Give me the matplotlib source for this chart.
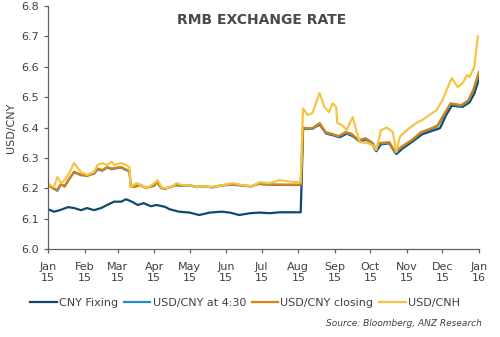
import numpy as np
import pandas as pd
import matplotlib
matplotlib.use("Agg")
import matplotlib.pyplot as plt
import matplotlib.dates as mdates

# ---------------------------------------------------------------
#  DATA
# ---------------------------------------------------------------
fix_dates = [
    "2015-01-01", "2015-01-06", "2015-01-11", "2015-01-18", "2015-01-23", "2015-01-29",
    "2015-02-03", "2015-02-09", "2015-02-15", "2015-02-20", "2015-02-26", "2015-03-04",
    "2015-03-08", "2015-03-13", "2015-03-18", "2015-03-23", "2015-03-29", "2015-04-03",
    "2015-04-10", "2015-04-14", "2015-04-22", "2015-05-01", "2015-05-09", "2015-05-18",
    "2015-05-28", "2015-06-04", "2015-06-12", "2015-06-21", "2015-06-29", "2015-07-08",
    "2015-07-16", "2015-07-25", "2015-08-03", "2015-08-04", "2015-08-05", "2015-08-09",
    "2015-08-13", "2015-08-19", "2015-08-25", "2015-08-30", "2015-09-05", "2015-09-11",
    "2015-09-16", "2015-09-22", "2015-09-28", "2015-10-03", "2015-10-06", "2015-10-10",
    "2015-10-17", "2015-10-23", "2015-10-28", "2015-11-06", "2015-11-14", "2015-11-23",
    "2015-11-29", "2015-12-04", "2015-12-09", "2015-12-18", "2015-12-24", "2015-12-28",
    "2016-01-01",
]
fix_values = [
    6.131, 6.123, 6.128, 6.138, 6.135, 6.128,
    6.135, 6.128, 6.135, 6.145, 6.156, 6.156,
    6.164, 6.156, 6.145, 6.151, 6.141, 6.145,
    6.139, 6.131, 6.123, 6.120, 6.112, 6.120,
    6.123, 6.120, 6.112, 6.118, 6.120, 6.118,
    6.121, 6.121, 6.121, 6.250, 6.400, 6.395,
    6.397, 6.410, 6.380, 6.375, 6.368, 6.380,
    6.372, 6.355, 6.360, 6.348, 6.322, 6.345,
    6.348, 6.313, 6.330, 6.355, 6.378, 6.390,
    6.398, 6.440, 6.472, 6.468, 6.483, 6.512,
    6.560,
]

spot_dates = [
    "2015-01-01", "2015-01-06", "2015-01-09", "2015-01-12", "2015-01-15", "2015-01-19",
    "2015-01-23", "2015-01-26", "2015-01-29", "2015-02-03", "2015-02-09", "2015-02-12",
    "2015-02-16", "2015-02-20", "2015-02-24", "2015-02-28", "2015-03-04", "2015-03-08",
    "2015-03-11", "2015-03-12", "2015-03-16", "2015-03-20", "2015-03-25", "2015-04-01",
    "2015-04-03", "2015-04-07", "2015-04-10", "2015-04-15", "2015-04-19", "2015-04-24",
    "2015-05-01", "2015-05-07", "2015-05-11", "2015-05-20", "2015-05-28", "2015-06-05",
    "2015-06-14", "2015-06-22", "2015-06-28", "2015-07-07", "2015-07-15", "2015-07-24",
    "2015-08-03", "2015-08-04", "2015-08-05", "2015-08-13", "2015-08-19", "2015-08-24",
    "2015-08-29", "2015-09-04", "2015-09-10", "2015-09-15", "2015-09-21", "2015-09-27",
    "2015-10-02", "2015-10-05", "2015-10-09", "2015-10-17", "2015-10-22", "2015-10-27",
    "2015-11-05", "2015-11-13", "2015-11-22", "2015-11-27", "2015-12-03", "2015-12-08",
    "2015-12-17", "2015-12-23", "2015-12-27", "2016-01-01",
]
close_values = [
    6.210, 6.200, 6.195, 6.215, 6.205, 6.230,
    6.255, 6.250, 6.245, 6.240, 6.250, 6.265,
    6.260, 6.270, 6.265, 6.268, 6.270, 6.262,
    6.258, 6.205, 6.205, 6.210, 6.200, 6.210,
    6.222, 6.200, 6.200, 6.205, 6.212, 6.210,
    6.210, 6.205, 6.207, 6.204, 6.210, 6.213,
    6.210, 6.207, 6.215, 6.213, 6.212, 6.212,
    6.212, 6.300, 6.398, 6.398, 6.415, 6.385,
    6.380, 6.372, 6.385, 6.380, 6.359, 6.365,
    6.352, 6.329, 6.349, 6.352, 6.320, 6.336,
    6.359, 6.385, 6.398, 6.408, 6.448, 6.480,
    6.474, 6.490, 6.523, 6.583,
]
at430_values = [
    6.212, 6.198, 6.192, 6.213, 6.207, 6.232,
    6.252, 6.248, 6.243, 6.242, 6.248, 6.262,
    6.258, 6.268, 6.263, 6.266, 6.268, 6.260,
    6.256, 6.207, 6.208, 6.212, 6.202, 6.208,
    6.220, 6.202, 6.198, 6.204, 6.210, 6.208,
    6.209, 6.204, 6.206, 6.203, 6.209, 6.212,
    6.209, 6.206, 6.214, 6.212, 6.211, 6.211,
    6.211, 6.300, 6.395, 6.396, 6.413, 6.382,
    6.377, 6.370, 6.382, 6.377, 6.356, 6.362,
    6.350, 6.326, 6.347, 6.350, 6.316, 6.333,
    6.357, 6.382, 6.395, 6.405, 6.445, 6.477,
    6.471, 6.487, 6.520, 6.575,
]

cnh_dates = [
    "2015-01-01", "2015-01-03", "2015-01-06", "2015-01-09", "2015-01-12", "2015-01-15",
    "2015-01-19", "2015-01-23", "2015-01-26", "2015-01-29", "2015-02-03", "2015-02-09",
    "2015-02-12", "2015-02-16", "2015-02-20", "2015-02-24", "2015-02-26", "2015-03-04",
    "2015-03-08", "2015-03-11", "2015-03-12", "2015-03-17", "2015-03-21", "2015-03-26",
    "2015-04-01", "2015-04-04", "2015-04-07", "2015-04-10", "2015-04-15", "2015-04-20",
    "2015-04-25", "2015-05-01", "2015-05-07", "2015-05-12", "2015-05-18", "2015-05-29",
    "2015-06-06", "2015-06-15", "2015-06-23", "2015-06-29", "2015-07-08", "2015-07-16",
    "2015-07-25", "2015-08-03", "2015-08-04", "2015-08-05", "2015-08-09", "2015-08-13",
    "2015-08-19", "2015-08-23", "2015-08-27", "2015-08-30", "2015-09-02", "2015-09-03",
    "2015-09-07", "2015-09-11", "2015-09-16", "2015-09-19", "2015-09-22", "2015-09-28",
    "2015-10-03", "2015-10-06", "2015-10-10", "2015-10-15", "2015-10-20", "2015-10-23",
    "2015-10-26", "2015-11-01", "2015-11-09", "2015-11-14", "2015-11-20", "2015-11-26",
    "2015-12-01", "2015-12-07", "2015-12-09", "2015-12-14", "2015-12-18", "2015-12-22",
    "2015-12-24", "2015-12-28", "2015-12-31",
]
cnh_values = [
    6.217, 6.210, 6.204, 6.237, 6.217, 6.227,
    6.250, 6.283, 6.267, 6.254, 6.244, 6.254,
    6.277, 6.283, 6.277, 6.287, 6.277, 6.283,
    6.277, 6.270, 6.204, 6.217, 6.210, 6.200,
    6.217, 6.227, 6.204, 6.200, 6.204, 6.217,
    6.210, 6.210, 6.204, 6.207, 6.204, 6.210,
    6.217, 6.210, 6.207, 6.220, 6.217, 6.227,
    6.222, 6.219, 6.350, 6.463, 6.441, 6.448,
    6.514, 6.468, 6.451, 6.480, 6.468, 6.415,
    6.408, 6.392, 6.435, 6.392, 6.352, 6.349,
    6.342, 6.326, 6.392, 6.400, 6.385, 6.320,
    6.370, 6.392, 6.415, 6.425, 6.441, 6.457,
    6.490, 6.546, 6.563, 6.533, 6.546, 6.573,
    6.566, 6.600, 6.700,
]

month_ticks = pd.date_range("2015-01-01", "2016-01-01", freq="MS")
month_labels = [f"{d.strftime('%b')}\n{d.strftime('%y')}" for d in month_ticks]

# ---------------------------------------------------------------
#  STYLE
# ---------------------------------------------------------------
NAVY   = "#0f4a6c"
BLUE   = "#1f8fc6"
ORANGE = "#d9800f"
YELLOW = "#f6c443"
TEXT   = "#404040"

plt.rcParams["font.family"] = ["DejaVu Sans"]

fig = plt.figure(figsize=(5.0, 3.37), dpi=100)
ax = fig.add_axes([0.096, 0.261, 0.862, 0.721])

ax.plot(pd.to_datetime(fix_dates), fix_values, color=NAVY, lw=1.6, label="CNY Fixing")
ax.plot(pd.to_datetime(spot_dates), at430_values, color=BLUE, lw=1.6, label="USD/CNY at 4:30")
ax.plot(pd.to_datetime(spot_dates), close_values, color=ORANGE, lw=1.6, label="USD/CNY closing")
ax.plot(pd.to_datetime(cnh_dates), cnh_values, color=YELLOW, lw=1.6, label="USD/CNH")

ax.set_xlim(month_ticks[0], month_ticks[-1])
ax.set_ylim(6.0, 6.8)
ax.set_yticks(np.arange(6.0, 6.81, 0.1))
ax.yaxis.set_major_formatter(plt.FormatStrFormatter("%.1f"))
ax.set_xticks(month_ticks)
ax.set_xticklabels(month_labels)

for side in ["top", "right"]:
    ax.spines[side].set_visible(False)
for side in ["left", "bottom"]:
    ax.spines[side].set_color("#606060")
    ax.spines[side].set_linewidth(0.9)
ax.tick_params(axis="both", colors="#606060", labelcolor=TEXT, labelsize=8,
               length=3, width=0.9, direction="out")
ax.tick_params(axis="x", pad=6)

ax.set_ylabel("USD/CNY", fontsize=8, color=TEXT, labelpad=4)

fig.text(0.524, 0.94, "RMB EXCHANGE RATE", ha="center", va="center",
         fontsize=10, fontweight="bold", color="#4a4a4a")

fig.legend(loc="center", bbox_to_anchor=(0.49, 0.10), ncol=4, frameon=False,
           fontsize=8, handlelength=2.4, handletextpad=0.2, columnspacing=0.5,
           labelcolor=TEXT)

fig.text(0.964, 0.04, "Source: Bloomberg, ANZ Research", ha="right", va="center",
         fontsize=6.5, style="italic", color=TEXT)

fig.savefig("out.png", dpi=100)
